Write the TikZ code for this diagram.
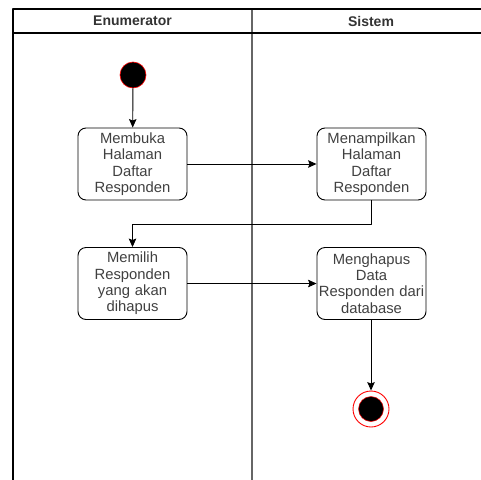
\documentclass[tikz,border=0pt]{standalone}
\usepackage{fontspec}
\setmainfont{Liberation Sans}
\usetikzlibrary{arrows.meta}

\begin{document}
\begin{tikzpicture}[
  x=1pt, y=-1pt,
  >={Stealth[length=8.5pt,width=7.5pt,inset=1.5pt]},
  line join=round,
  every node/.style={font=\fontsize{14.8}{16.4}\selectfont, text=black!75},
  lanehead/.style={font=\fontsize{14}{16.4}\selectfont\bfseries, text=black!80},
  activity/.style={draw=black, line width=0.9pt, rounded corners=8pt,
    minimum width=109pt, minimum height=72pt, text width=107pt,
    align=center, inner sep=0pt},
  flow/.style={->, line width=0.9pt}
]
  \useasboundingbox (0,0) rectangle (481,479);

  % Swimlanes (right and bottom edges lie outside the picture)
  \begin{scope}
    \clip (0,0) rectangle (481,479);
    \draw[black!60, line width=1.5pt] (252,9) -- (252,500);
    \draw[line width=2pt] (13,500) -- (13,9) -- (500,9);
    \draw[line width=1.4pt] (13,33) -- (500,33);
  \end{scope}

  % Lane titles
  \node[lanehead] (enum) at (132.5,21) {Enumerator};
  \node[lanehead] (sistem) at (371,21) {Sistem};

  % Start and end states
  \node[circle, fill=black, draw=red, line width=0.6pt, minimum size=26pt,
    inner sep=0pt] (start) at (133,75) {};
  \node[circle, draw=red, line width=0.9pt, minimum size=36pt,
    inner sep=0pt] (finish) at (371,409) {};
  \fill[black, draw=red, line width=0.5pt] (finish.center) circle (12.5);

  % Activities
  \node[activity] (membuka) at (132.5,164) {Membuka\\Halaman\\Daftar\\Responden};
  \node[activity] (tampil)  at (371.5,164) {Menampilkan\\Halaman\\Daftar\\Responden};
  \node[activity] (pilih)   at (132.5,283.5) {Memilih\\Responden\\yang akan\\dihapus};
  \node[activity] (hapus)   at (371.5,283.5) {Menghapus\\Data\\Responden dari\\database};

  % Control flow
  \draw[flow] (start) -- (membuka);
  \draw[flow] (membuka) -- (tampil);
  \draw[flow] (tampil.south) -- ++(0,24) -| (pilih.north);
  \draw[flow] (pilih) -- (hapus);
  \draw[flow] (hapus.south -| finish) -- (finish);
\end{tikzpicture}
\end{document}
